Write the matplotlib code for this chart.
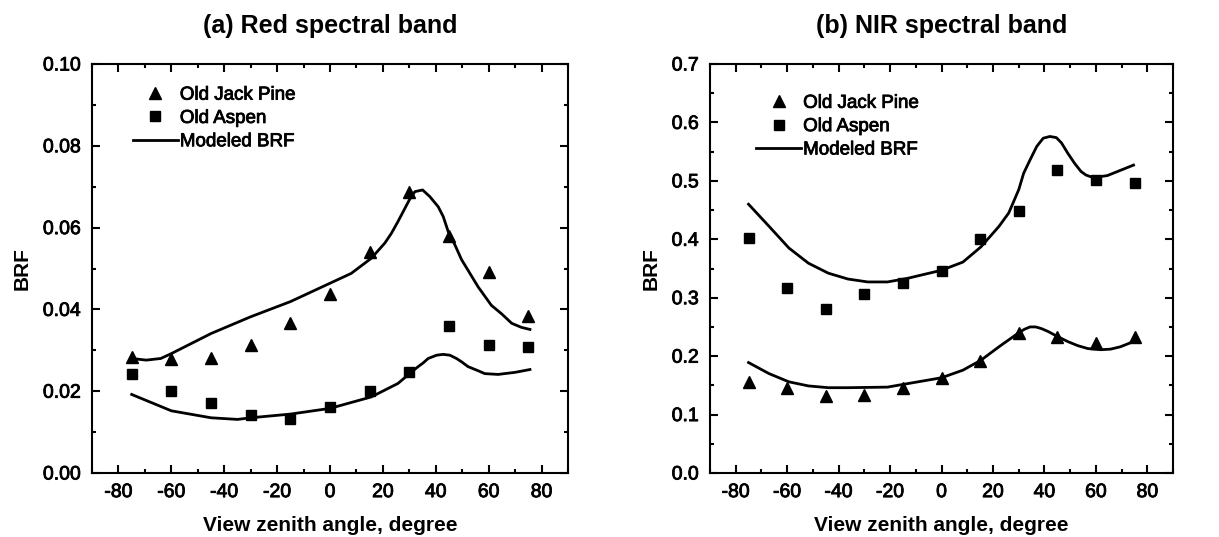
import numpy as np
import matplotlib.pyplot as plt
import matplotlib.patheffects as pe
from matplotlib.ticker import MultipleLocator, FormatStrFormatter

plt.rcParams['font.family'] = ['Liberation Sans', 'DejaVu Sans']
plt.rcParams['axes.unicode_minus'] = False

# view zenith angles of the measurements
angles = [-75, -60, -45, -30, -15, 0, 15, 30, 45, 60, 75]

# (a) red band measurements
red_pine = [0.0284, 0.0278, 0.0282, 0.0313, 0.0367, 0.0437, 0.0541, 0.0686, 0.0580, 0.0492, 0.0384]
red_aspen = [0.0241, 0.0201, 0.0172, 0.0141, 0.0131, 0.0162, 0.0201, 0.0247, 0.0360, 0.0313, 0.0309]

# (a) red band modeled curves
red_mod_hi_x = [-75, -69.5, -64, -60, -45, -30, -15, 0, 8, 15.6, 20.7, 23.2, 25.7, 28.3, 30, 32.1, 35, 37.7,
                40.9, 42.8, 44.7, 47.2, 49.7, 52.9, 56, 61, 64.9, 68.7, 72.4, 75.6]
red_mod_hi_y = [0.0280, 0.0276, 0.0280, 0.0292, 0.0341, 0.0382, 0.0419, 0.0464, 0.0488, 0.0525, 0.0562, 0.0586,
                0.0615, 0.0647, 0.0668, 0.0688, 0.0692, 0.0676, 0.0651, 0.0627, 0.0590, 0.0558, 0.0522, 0.0488,
                0.0455, 0.0410, 0.0389, 0.0366, 0.0356, 0.0351]
red_mod_lo_x = [-75, -60, -45, -35, -30, -15, 0, 15.6, 25.7, 30.8, 33.3, 35.2, 37.1, 40.3, 42.8, 45.3, 47.8,
                49.7, 52.2, 56, 58.5, 61, 63.6, 66, 69.9, 75.6]
red_mod_lo_y = [0.0192, 0.0152, 0.0135, 0.0131, 0.0135, 0.0144, 0.0158, 0.0186, 0.0219, 0.0247, 0.0260, 0.0269,
                0.0280, 0.0288, 0.0290, 0.0288, 0.0280, 0.0272, 0.0260, 0.0250, 0.0243, 0.0242, 0.0241, 0.0243,
                0.0246, 0.0253]

# (b) NIR band measurements
nir_pine = [0.156, 0.145, 0.131, 0.134, 0.145, 0.162, 0.191, 0.240, 0.233, 0.223, 0.233]
nir_aspen = [0.402, 0.316, 0.280, 0.306, 0.325, 0.346, 0.400, 0.449, 0.519, 0.501, 0.497]

# (b) NIR band modeled curves
nir_mod_hi_x = [-75, -67, -59.3, -51.7, -44, -36.4, -28.7, -21, -13.4, 0, 8.3, 15.3, 22.3, 26.1, 30, 31.9, 34.4,
                37, 39.5, 42.1, 44.6, 46.6, 49.1, 51.7, 54.2, 56.1, 58, 61.2, 64.4, 69.5, 74.6]
nir_mod_hi_y = [0.460, 0.422, 0.385, 0.359, 0.342, 0.332, 0.327, 0.327, 0.333, 0.347, 0.361, 0.387, 0.422, 0.445,
                0.485, 0.513, 0.536, 0.559, 0.573, 0.576, 0.574, 0.565, 0.547, 0.530, 0.516, 0.510, 0.507, 0.507,
                0.509, 0.518, 0.527]
nir_mod_lo_x = [-75, -67, -59.3, -51.7, -44, -36.4, -21, 0, 8.3, 15.3, 22.3, 30, 32.2, 34.4, 36.6, 38.9, 41.5,
                44, 49, 52.9, 56.8, 61.9, 65.7, 69.5, 74.6]
nir_mod_lo_y = [0.189, 0.170, 0.156, 0.149, 0.146, 0.146, 0.147, 0.163, 0.176, 0.193, 0.216, 0.240, 0.246, 0.250,
                0.250, 0.247, 0.242, 0.236, 0.225, 0.218, 0.213, 0.211, 0.212, 0.216, 0.225]

fig = plt.figure(figsize=(12.19, 5.37), dpi=100)
ax1 = fig.add_axes([0.0755, 0.1192, 0.3905, 0.7616])
ax2 = fig.add_axes([0.5824, 0.1192, 0.3800, 0.7616])

# slightly heavier than regular, like the blurred original
semibold = [pe.withStroke(linewidth=0.6, foreground='black')]


def draw(ax, pine, aspen, hx, hy, lx, ly, title, ymax, ymaj, ymin, yfmt, leg_anchor):
    ax.plot(angles, pine, '^', color='black', markersize=8.5, label='Old Jack Pine', zorder=3)
    ax.plot(angles, aspen, 's', color='black', markersize=6.5, label='Old Aspen', zorder=3)
    ax.plot(hx, hy, '-', color='black', lw=2, label='Modeled BRF', solid_joinstyle='round')
    ax.plot(lx, ly, '-', color='black', lw=2, solid_joinstyle='round')
    ax.set_xlim(-90, 90)
    ax.set_ylim(0, ymax)
    ax.xaxis.set_major_locator(MultipleLocator(20))
    ax.xaxis.set_minor_locator(MultipleLocator(10))
    ax.yaxis.set_major_locator(MultipleLocator(ymaj))
    ax.yaxis.set_minor_locator(MultipleLocator(ymin))
    ax.yaxis.set_major_formatter(FormatStrFormatter(yfmt))
    ax.tick_params(which='both', direction='in', top=True, right=True, width=1.5)
    ax.tick_params(which='major', length=6, labelsize=14, pad=8)
    ax.tick_params(which='minor', length=3)
    for lab in ax.get_xticklabels() + ax.get_yticklabels():
        lab.set_path_effects(semibold)
    for sp in ax.spines.values():
        sp.set_linewidth(1.5)
    ax.set_xlabel('View zenith angle, degree', fontsize=15, fontweight='bold', labelpad=11)
    ax.set_ylabel('BRF', fontsize=15, fontweight='bold', labelpad=8)
    ax.set_title(title, fontsize=18, fontweight='bold', pad=22)
    leg = ax.legend(loc='upper left', bbox_to_anchor=leg_anchor, frameon=False, fontsize=13.5,
                    handlelength=2.4, handletextpad=0.1, labelspacing=0.33, borderpad=0, borderaxespad=0)
    for t in leg.get_texts():
        t.set_path_effects(semibold)


draw(ax1, red_pine, red_aspen, red_mod_hi_x, red_mod_hi_y, red_mod_lo_x, red_mod_lo_y,
     '(a) Red spectral band', 0.10, 0.02, 0.01, '%.2f', (0.086, 0.945))
draw(ax2, nir_pine, nir_aspen, nir_mod_hi_x, nir_mod_hi_y, nir_mod_lo_x, nir_mod_lo_y,
     '(b) NIR spectral band', 0.7, 0.1, 0.05, '%.1f', (0.10, 0.925))

fig.savefig('out.png', dpi=100)
